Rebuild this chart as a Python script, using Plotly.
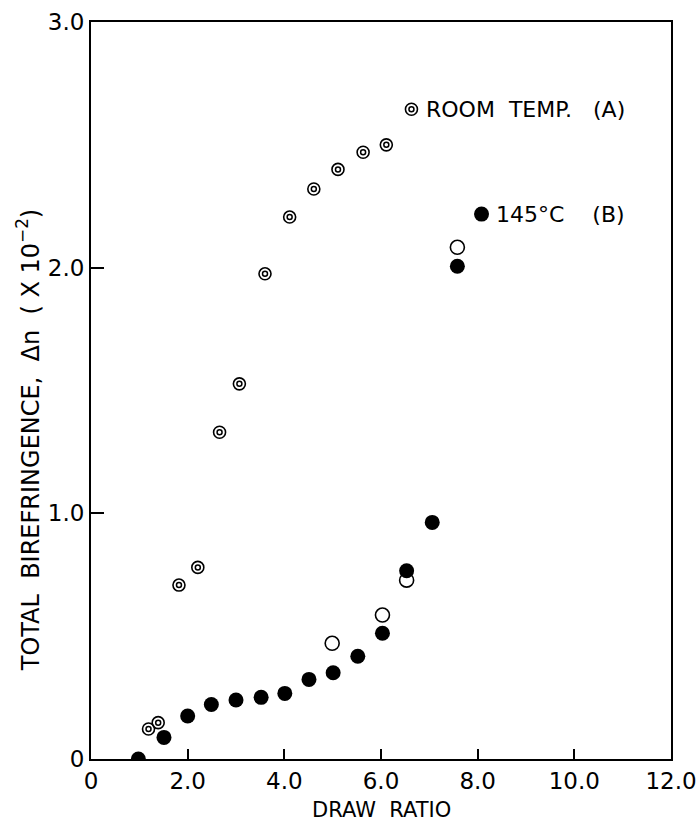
import plotly.graph_objects as go

# Room temperature (A) – double circles
room_x = [1.19, 1.39, 1.82, 2.21, 2.66, 3.07, 3.60, 4.11, 4.61, 5.11, 5.63, 6.11, 6.63]
room_y = [0.122, 0.148, 0.708, 0.780, 1.33, 1.527, 1.975, 2.206, 2.32, 2.40, 2.47, 2.50, 2.645]

# 145 °C (B) – filled circles
hot_x = [0.98, 1.51, 2.00, 2.49, 3.00, 3.52, 4.01, 4.51, 5.01, 5.52, 6.03, 6.53, 7.06, 7.58, 8.08]
hot_y = [0.0, 0.088, 0.175, 0.222, 0.240, 0.251, 0.267, 0.324, 0.351, 0.418, 0.512, 0.766, 0.963, 2.006, 2.218]

# open circles
open_x = [4.99, 6.03, 6.53, 7.58]
open_y = [0.471, 0.586, 0.728, 2.083]

x_ticks = [0, 2, 4, 6, 8, 10, 12]
x_labels = ["0", "2.0", "4.0", "6.0", "8.0", "10.0", "12.0"]
y_ticks = [0, 1, 2, 3]
y_labels = ["0", "1.0", "2.0", "3.0"]

FONT = "DejaVu Sans"

fig = go.Figure()
fig.add_trace(go.Scatter(x=open_x, y=open_y, mode="markers",
                         marker=dict(symbol="circle-open", size=14, color="black",
                                     line=dict(width=1.6, color="black"))))
fig.add_trace(go.Scatter(x=hot_x, y=hot_y, mode="markers",
                         marker=dict(symbol="circle", size=15, color="black")))
fig.add_trace(go.Scatter(x=room_x, y=room_y, mode="markers",
                         marker=dict(symbol="circle-open", size=12, color="black",
                                     line=dict(width=1.6, color="black"))))
fig.add_trace(go.Scatter(x=room_x, y=room_y, mode="markers",
                         marker=dict(symbol="circle-open", size=5, color="black",
                                     line=dict(width=1.5, color="black"))))

axis_common = dict(showline=True, linecolor="black", linewidth=2, mirror=True,
                   showgrid=False, zeroline=False, ticks="inside", tickcolor="black",
                   automargin=False,
                   tickwidth=1.5, tickfont=dict(family=FONT, size=23, color="black"))

fig.update_xaxes(range=[0, 12], tickvals=x_ticks, ticktext=x_labels, ticklen=10,
                 **axis_common)
fig.update_yaxes(range=[0, 3], tickvals=y_ticks, ticktext=y_labels, ticklen=13,
                 **axis_common)

fig.add_annotation(text="DRAW  RATIO", xref="paper", yref="paper", x=0.5, y=-0.069,
                   xanchor="center", yanchor="middle", showarrow=False,
                   font=dict(family=FONT, size=21, color="black"))
fig.add_annotation(text="TOTAL  BIREFRINGENCE,  Δn  ( X 10<sup>−2</sup>)",
                   xref="paper", yref="paper", x=-0.108, y=0.433, textangle=-90,
                   showarrow=False, xanchor="center", yanchor="middle",
                   font=dict(family=FONT, size=24, color="black"))
fig.add_annotation(text="ROOM  TEMP.   (A)", x=6.63, y=2.645, xref="x", yref="y",
                   xanchor="left", yanchor="middle", xshift=13, showarrow=False,
                   font=dict(family=FONT, size=22, color="black"))
fig.add_annotation(text="145°C    (B)", x=8.08, y=2.218, xref="x", yref="y",
                   xanchor="left", yanchor="middle", xshift=12, showarrow=False,
                   font=dict(family=FONT, size=22, color="black"))

fig.update_layout(width=699, height=823, showlegend=False,
                  margin=dict(l=91, r=28, t=22, b=64),
                  plot_bgcolor="white", paper_bgcolor="white")

fig.write_html("out.html")
